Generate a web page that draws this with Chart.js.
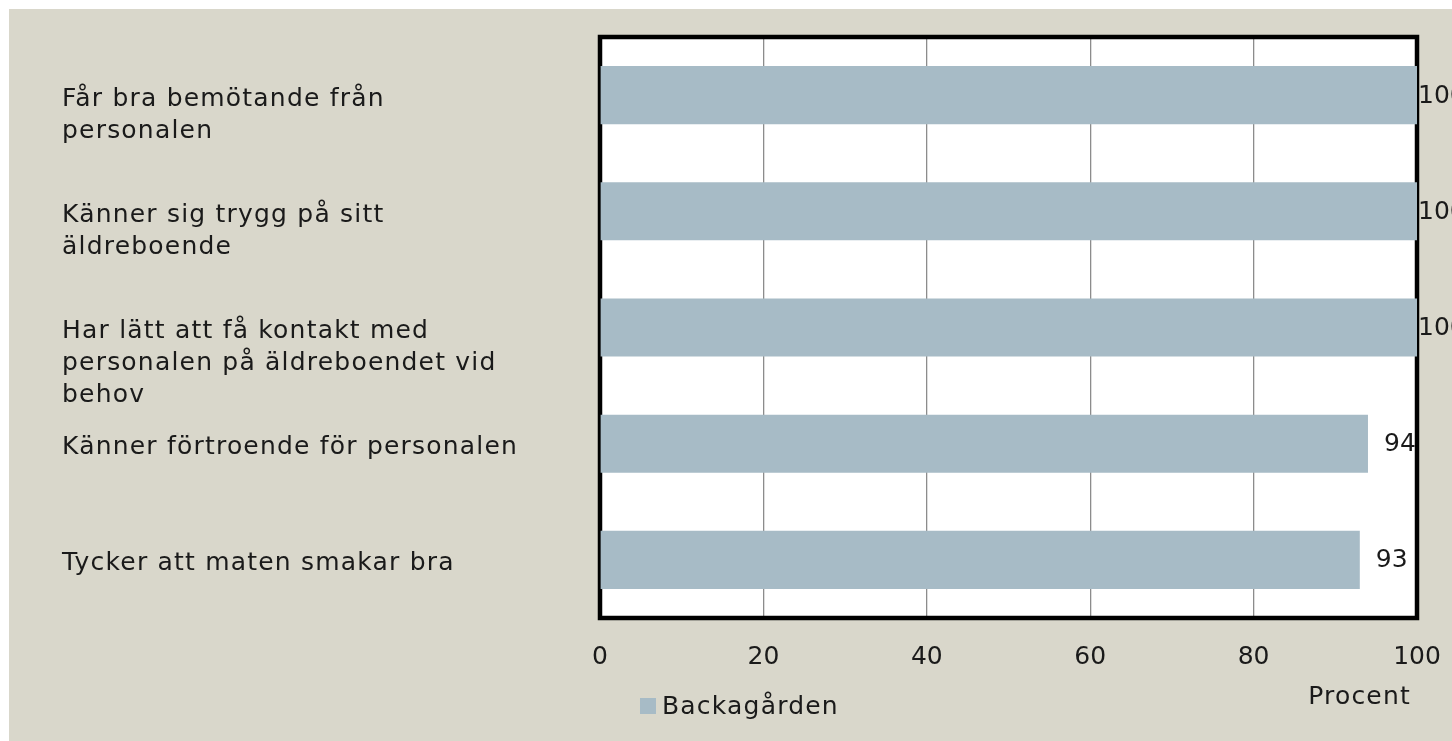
<!DOCTYPE html>
<html>
<head>
<meta charset="utf-8">
<script src="https://cdn.jsdelivr.net/npm/chart.js@4"></script>
<style>
  html, body { margin: 0; padding: 0; background: #ffffff; overflow: hidden; }
  #panel { position: absolute; left: 9px; top: 9px; width: 1443px; height: 732px; background: #d9d7cb; }
  canvas { display: block; }
</style>
</head>
<body>
<div id="panel"><canvas id="myBarChart" width="1443" height="732"></canvas></div>
<script>
// categories, top to bottom
const categories = [
    ['Får bra bemötande från', 'personalen'],
    ['Känner sig trygg på sitt', 'äldreboende'],
    ['Har lätt att få kontakt med', 'personalen på äldreboendet vid', 'behov'],
    ['Känner förtroende för personalen'],
    ['Tycker att maten smakar bra']
];
const seriesName = 'Backagården';
const seriesValues = [100, 100, 100, 94, 93];
const xTicks = [0, 20, 40, 60, 80, 100];
const axisTitle = 'Procent';

const fontFamily = '"DejaVu Sans", sans-serif';
const labelFont = '25px ' + fontFamily;
const labelSpacing = '1.2px';
const numberSize = 25;
const textColor = '#1a1a1a';
const barColor = '#a7bbc6';

// white plot area + thick black frame
const framePlugin = {
    id: 'frame',
    beforeDraw(chart) {
        const a = chart.chartArea;
        const ctx = chart.ctx;
        ctx.save();
        ctx.fillStyle = '#ffffff';
        ctx.fillRect(a.left, a.top, a.right - a.left, a.bottom - a.top);
        ctx.restore();
    },
    beforeDatasetsDraw(chart) {
        const a = chart.chartArea;
        const ctx = chart.ctx;
        ctx.save();
        ctx.strokeStyle = '#000000';
        ctx.lineWidth = 4.5;
        ctx.strokeRect(a.left, a.top, a.right - a.left, a.bottom - a.top);
        ctx.restore();
    }
};

// category labels on the left, first line at the tick
const catLabelPlugin = {
    id: 'catLabels',
    afterDraw(chart) {
        const ctx = chart.ctx;
        const yScale = chart.scales.y;
        ctx.save();
        ctx.font = labelFont;
        ctx.letterSpacing = labelSpacing;
        ctx.fillStyle = textColor;
        ctx.textAlign = 'left';
        ctx.textBaseline = 'middle';
        categories.forEach(function(lines, i) {
            const y = yScale.getPixelForValue(i);
            lines.forEach(function(line, j) {
                ctx.fillText(line, 53, y + 4 + j * 32);
            });
        });
        ctx.restore();
    }
};

// value labels after the bar ends
const valueLabelPlugin = {
    id: 'valueLabels',
    afterDatasetsDraw(chart) {
        const ctx = chart.ctx;
        const meta = chart.getDatasetMeta(0);
        const right = chart.chartArea.right;
        ctx.save();
        ctx.font = numberSize + 'px ' + fontFamily;
        ctx.fillStyle = textColor;
        ctx.textAlign = 'left';
        ctx.textBaseline = 'middle';
        meta.data.forEach(function(bar, i) {
            const x = Math.min(bar.x + 16, right + 1);
            ctx.fillText(String(seriesValues[i]), x, bar.y + 1);
        });
        ctx.restore();
    }
};

// legend + axis title, drawn by hand below the axis
const legendPlugin = {
    id: 'customLegend',
    afterDraw(chart) {
        const ctx = chart.ctx;
        const ds = chart.data.datasets[0];
        ctx.save();
        ctx.fillStyle = ds.backgroundColor;
        ctx.fillRect(631, 689, 16, 16);
        ctx.font = labelFont;
        ctx.letterSpacing = labelSpacing;
        ctx.fillStyle = textColor;
        ctx.textAlign = 'left';
        ctx.textBaseline = 'middle';
        ctx.fillText(ds.label, 653, 698);
        ctx.textAlign = 'right';
        ctx.fillText(axisTitle, chart.chartArea.right - 6, 688);
        ctx.restore();
    }
};

function renderChart() {
    const data = {
        labels: categories,
        datasets: [{
            label: seriesName,
            backgroundColor: barColor,
            borderWidth: 0,
            data: seriesValues,
            barPercentage: 0.5,
            categoryPercentage: 1.0
        }]
    };

    const config = {
        type: 'bar',
        data: data,
        options: {
            indexAxis: 'y',
            responsive: false,
            devicePixelRatio: 1,
            animation: false,
            layout: {
                padding: { left: 591, top: 28, right: 35, bottom: 73 }
            },
            plugins: {
                legend: { display: false },
                tooltip: { enabled: false },
                title: { display: false }
            },
            scales: {
                x: {
                    min: 0,
                    max: 100,
                    afterBuildTicks: function(scale) {
                        scale.ticks = xTicks.map(function(v) { return { value: v }; });
                    },
                    afterFit: function(scale) {
                        // keep the plot edges where the layout padding puts them
                        scale.paddingLeft = 0;
                        scale.paddingRight = 0;
                        scale.height = 50;
                    },
                    grid: { color: '#8c8c8c', lineWidth: 1.3, drawTicks: false },
                    border: { display: false },
                    ticks: {
                        padding: 24,
                        color: textColor,
                        font: { family: fontFamily, size: numberSize },
                        maxRotation: 0
                    }
                },
                y: {
                    display: false
                }
            }
        },
        plugins: [framePlugin, valueLabelPlugin, catLabelPlugin, legendPlugin]
    };

    new Chart(document.getElementById('myBarChart'), config);
}

renderChart();
</script>
</body>
</html>
